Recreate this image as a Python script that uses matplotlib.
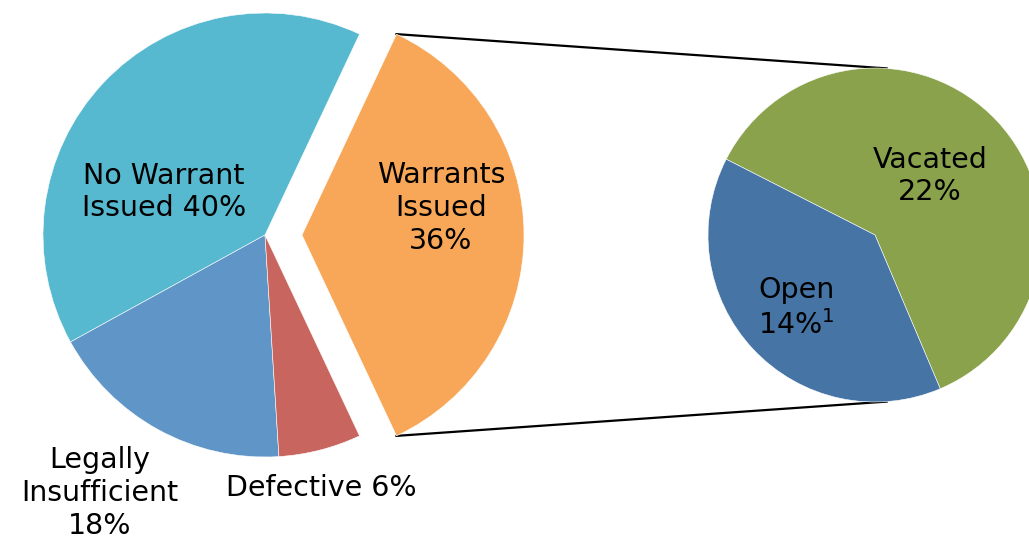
import numpy as np
import matplotlib
matplotlib.use("Agg")
import matplotlib.pyplot as plt

# outer pie (share of all cases, %)
outer_labels = ["No Warrant\nIssued 40%", "Legally\nInsufficient\n18%", "Defective 6%", "Warrants\nIssued\n36%"]
outer_values = [40, 18, 6, 36]
outer_colors = ["#57B9D0", "#6096C7", "#C9655F", "#F8A758"]

# breakdown of "Warrants Issued"
inner_labels = ["Vacated\n22%", "Open\n14%$^{\\mathregular{1}}$"]
inner_values = [22, 14]
inner_colors = ["#8AA24B", "#4574A5"]

W, H = 1029, 540
fig = plt.figure(figsize=(W / 100, H / 100), dpi=100)
ax = fig.add_axes([0, 0, 1, 1])

c1, r1 = (265, 305), 222
c2, r2 = (875, 305), 167
start = outer_values[-1] / sum(outer_values) * 180

w1, _ = ax.pie(outer_values, colors=outer_colors, radius=r1, center=c1,
               startangle=start, explode=[0, 0, 0, 37],
               wedgeprops=dict(edgecolor="white", linewidth=0.4))
w2, _ = ax.pie(inner_values, colors=inner_colors, radius=r2, center=c2,
               startangle=-67,
               wedgeprops=dict(edgecolor="white", linewidth=0.4))

# connector lines from exploded wedge corners to the second pie
ew = w1[-1]
cx, cy = ew.center
for th, th2 in ((ew.theta2, 86), (ew.theta1, -86)):
    x0 = cx + ew.r * np.cos(np.radians(th))
    y0 = cy + ew.r * np.sin(np.radians(th))
    x1 = c2[0] + r2 * np.cos(np.radians(th2))
    y1 = c2[1] + r2 * np.sin(np.radians(th2))
    ax.plot([x0, x1], [y0, y1], color="black", lw=1.6, zorder=0)

txt = dict(fontsize=20.5, ha="center", va="center", color="black", linespacing=1.22)
ax.text(164, H - 192, outer_labels[0], **txt)
ax.text(100, H - 493, outer_labels[1], **txt)
ax.text(321, H - 488, outer_labels[2], **txt)
ax.text(441, H - 208, outer_labels[3], **txt)
ax.text(930, H - 176, inner_labels[0], **txt)
ax.text(796, H - 308, inner_labels[1], **txt)

ax.set_xlim(0, W)
ax.set_ylim(0, H)
ax.set_aspect("equal")
ax.axis("off")
fig.savefig("out.png", dpi=100)
